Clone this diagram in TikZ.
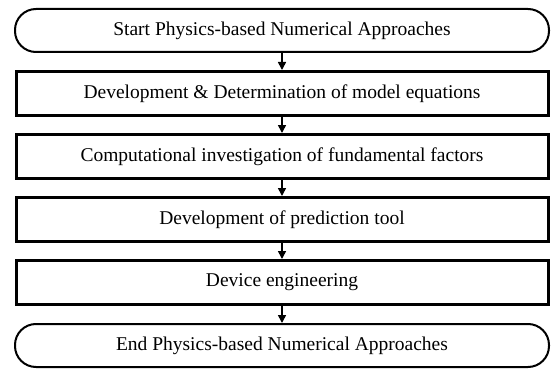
\documentclass[tikz,border=0pt]{standalone}
\usepackage{fontspec}
\setmainfont{Liberation Serif}
\usetikzlibrary{positioning,arrows.meta}

\begin{document}
\begin{tikzpicture}[node distance=63pt,on grid,
   terminal/.style={draw,line width=2pt,rounded corners=21pt,minimum width=534pt,minimum height=43pt,font=\fontsize{19.5}{22}\selectfont},
   process/.style={draw,line width=3pt,minimum width=532pt,minimum height=44pt,font=\fontsize{19.5}{22}\selectfont},
   flow/.style={-{Triangle[length=8pt,width=8pt]},line width=1.6pt}]
   \useasboundingbox (0,0) rectangle (552pt,-369pt);
   \node[terminal] (start) at (282pt,-30.5pt) {Start Physics-based Numerical Approaches};
   \node[process] (p_1) [below=of start] {Development \& Determination of model equations};
   \node[process] (p_2) [below=of p_1] {Computational investigation of fundamental factors};
   \node[process] (p_3) [below=of p_2] {Development of prediction tool};
   \node[process] (p_4) [below=of p_3] {Device engineering};
   \node[terminal] (end) [below=of p_4] {End Physics-based Numerical Approaches};
    \path[flow]
    (start) edge (p_1)
    (p_1) edge (p_2)
    (p_2) edge (p_3)
    (p_3) edge (p_4)
    (p_4) edge (end);
\end{tikzpicture}
\end{document}
